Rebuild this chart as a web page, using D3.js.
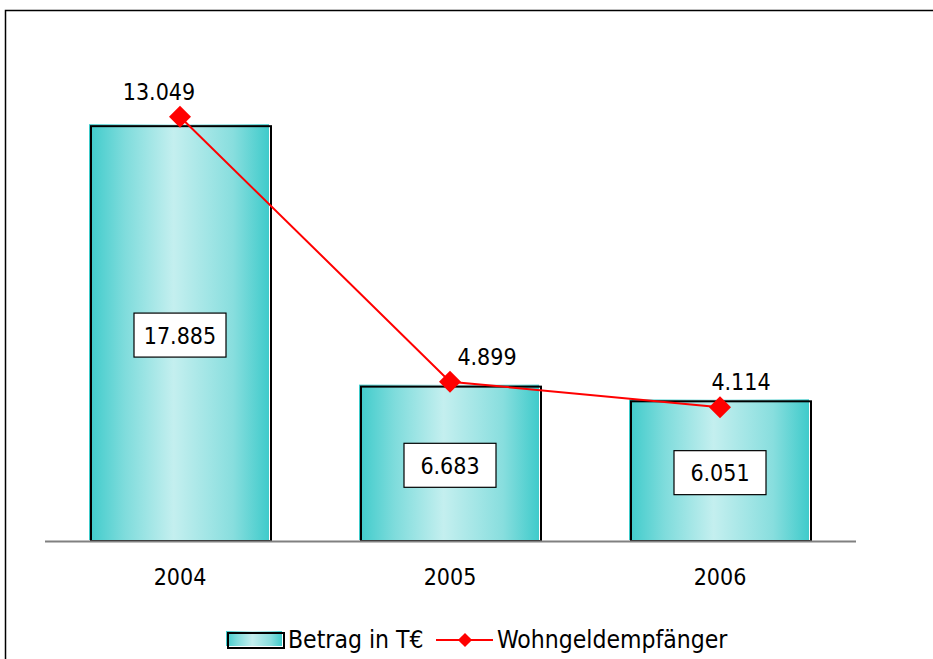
<!DOCTYPE html>
<html><head><meta charset="utf-8">
<script src="https://cdn.jsdelivr.net/npm/d3@7"></script>
<style>body{margin:0;background:#fff;} svg{display:block;}</style>
</head><body>
<script>
const categories = ["2004", "2005", "2006"];
const betrag = [17885, 6683, 6051];
const empfaenger = [13049, 4899, 4114];
const seriesNames = ["Betrag in T€", "Wohngeldempfänger"];
const lineLabelDx = [-21, 37, 21];

const W = 933, H = 659;
const fmt = v => d3.format(",")(v).replace(/,/g, ".");
const FONT = "'DejaVu Sans Condensed', 'DejaVu Sans', Verdana, sans-serif";

const svg = d3.select("body").append("svg").attr("width", W).attr("height", H);

svg.append("rect").attr("x", 5.5).attr("y", 10.5).attr("width", W + 20).attr("height", H + 20)
  .attr("fill", "none").attr("stroke", "#000").attr("stroke-width", 1.5);

const defs = svg.append("defs");
const grad = defs.append("linearGradient").attr("id", "barGrad").attr("x1", "0%").attr("x2", "100%").attr("y1", "0%").attr("y2", "0%");
[[0, "#3fcbcb"], [0.2, "#7fdcdc"], [0.47, "#c4efef"], [0.8, "#88dede"], [1, "#3fcbcb"]]
  .forEach(([o, c]) => grad.append("stop").attr("offset", o).attr("stop-color", c));

const x = d3.scaleBand().domain(categories).range([45, 855]).paddingInner(1/3).paddingOuter(1/6);
const y = d3.scaleLinear().domain([0, 20000]).range([541, 76]);
const y2 = d3.scaleLinear().domain([0, 14300]).range([541, 76]);

const bars = svg.append("g").selectAll("g").data(categories).enter().append("g");
bars.append("rect")
  .attr("x", d => x(d) - 1).attr("y", (d, i) => y(betrag[i]) - 1)
  .attr("width", x.bandwidth()).attr("height", (d, i) => y(0) - y(betrag[i]))
  .attr("fill", "url(#barGrad)");
bars.append("rect")
  .attr("x", d => x(d) + 1).attr("y", (d, i) => y(betrag[i]) + 1)
  .attr("width", x.bandwidth()).attr("height", (d, i) => y(0) - y(betrag[i]) - 1)
  .attr("fill", "none").attr("stroke", "#000").attr("stroke-width", 2);

svg.append("line").attr("x1", 45).attr("x2", 856).attr("y1", 541.5).attr("y2", 541.5)
  .attr("stroke", "#808080").attr("stroke-width", 2);

const xAxis = svg.append("g").attr("transform", "translate(0,541)")
  .call(d3.axisBottom(x).tickSize(0).tickPadding(28));
xAxis.select(".domain").remove();
xAxis.selectAll("text").attr("font-family", FONT).attr("font-size", 23).attr("fill", "#000");

bars.each(function(d, i) {
  const g = d3.select(this);
  const cx = x(d) + x.bandwidth() / 2;
  const cy = (y(betrag[i]) + y(0)) / 2 + 2;
  g.append("rect").attr("x", cx - 46).attr("y", cy - 22).attr("width", 92).attr("height", 44)
    .attr("fill", "#fff").attr("stroke", "#000").attr("stroke-width", 1.2);
  g.append("text").attr("x", cx).attr("y", cy + 8.5).attr("text-anchor", "middle")
    .attr("font-family", FONT).attr("font-size", 23)
    .attr("fill", "#000").text(fmt(betrag[i]));
});

const cxs = categories.map(c => x(c) + x.bandwidth() / 2);
const line = d3.line().x((d, i) => cxs[i]).y(d => y2(d));
svg.append("path").datum(empfaenger).attr("d", line).attr("fill", "none")
  .attr("stroke", "#ff0000").attr("stroke-width", 2);
const diamond = d3.symbol().type(d3.symbolSquare).size(242);
svg.append("g").selectAll("path").data(empfaenger).enter().append("path")
  .attr("d", diamond)
  .attr("transform", (d, i) => `translate(${cxs[i]},${y2(d)}) rotate(45)`)
  .attr("fill", "#ff0000");
svg.append("g").selectAll("text").data(empfaenger).enter().append("text")
  .attr("x", (d, i) => cxs[i] + lineLabelDx[i]).attr("y", d => y2(d) - 17)
  .attr("text-anchor", "middle").attr("font-family", FONT).attr("font-size", 23)
  .attr("fill", "#000").text(d => fmt(d));

const lg = svg.append("g");
lg.append("rect").attr("x", 226).attr("y", 631).attr("width", 56).attr("height", 15).attr("fill", "url(#barGrad)");
lg.append("rect").attr("x", 228).attr("y", 633).attr("width", 56).attr("height", 15)
  .attr("fill", "none").attr("stroke", "#000").attr("stroke-width", 2);
lg.append("text").attr("x", 288).attr("y", 648).attr("font-family", FONT).attr("font-size", 24.5)
  .attr("fill", "#000").text(seriesNames[0]);
lg.append("line").attr("x1", 436).attr("x2", 493).attr("y1", 640).attr("y2", 640)
  .attr("stroke", "#ff0000").attr("stroke-width", 2);
lg.append("path").attr("d", d3.symbol().type(d3.symbolSquare).size(100))
  .attr("transform", "translate(465,640) rotate(45)").attr("fill", "#ff0000");
lg.append("text").attr("x", 497).attr("y", 648).attr("font-family", FONT).attr("font-size", 24.5)
  .attr("fill", "#000").text(seriesNames[1]);
</script>
</body></html>
